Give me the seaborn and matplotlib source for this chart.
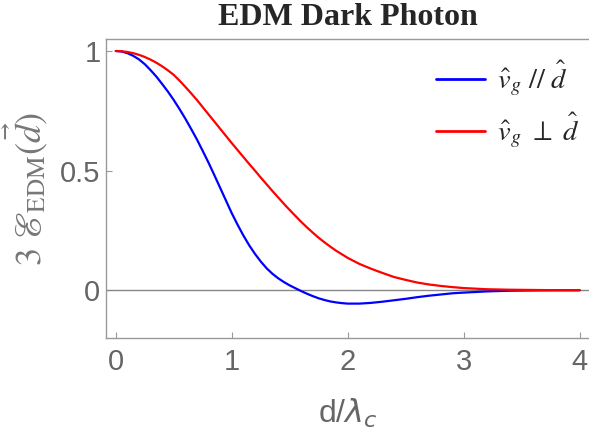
import numpy as np
import pandas as pd
import matplotlib.pyplot as plt
import seaborn as sns

# values (finer steps where they bend most)
d_over_lambda = [0.0, 0.05, 0.1, 0.15, 0.2, 0.25, 0.3, 0.35, 0.4, 0.45,
                 0.5, 0.55, 0.6, 0.65, 0.7, 0.75, 0.8, 0.85, 0.9, 0.95,
                 1.0, 1.05, 1.1, 1.15, 1.2, 1.25, 1.3, 1.35, 1.4, 1.45,
                 1.5, 1.55, 1.6, 1.65, 1.7, 1.75, 1.8, 1.85, 1.9, 1.95,
                 2.0, 2.1, 2.2, 2.3, 2.4, 2.5, 2.6, 2.7, 2.8, 2.9,
                 3.0, 3.2, 3.4, 3.6, 3.8, 4.0]
parallel = [1.0, 0.998, 0.991, 0.980, 0.965, 0.945, 0.920, 0.893, 0.862, 0.830,
            0.795, 0.757, 0.717, 0.674, 0.630, 0.582, 0.533, 0.481, 0.428, 0.375,
            0.322, 0.274, 0.229, 0.188, 0.152, 0.120, 0.092, 0.069, 0.050, 0.034,
            0.020, 0.008, -0.004, -0.015, -0.025, -0.034, -0.041, -0.047, -0.051, -0.054,
            -0.056, -0.056, -0.053, -0.048, -0.042, -0.036, -0.029, -0.023, -0.018, -0.013,
            -0.010, -0.005, -0.002, -0.001, 0.0, 0.0]
perpendicular = [1.0, 0.999, 0.996, 0.991, 0.984, 0.975, 0.964, 0.951, 0.936, 0.919,
                 0.900, 0.876, 0.850, 0.823, 0.795, 0.765, 0.735, 0.705, 0.675, 0.645,
                 0.615, 0.586, 0.557, 0.528, 0.500, 0.471, 0.443, 0.415, 0.388, 0.361,
                 0.335, 0.310, 0.285, 0.262, 0.240, 0.219, 0.200, 0.182, 0.165, 0.150,
                 0.135, 0.110, 0.090, 0.072, 0.055, 0.043, 0.032, 0.024, 0.018, 0.013,
                 0.009, 0.004, 0.002, 0.001, 0.0, 0.0]

labels = [r'$\hat{v}_g\ //\ \hat{d}$', r'$\hat{v}_g\ \perp\ \hat{d}$']
x_ticks = [0, 1, 2, 3, 4]
y_ticks = [0, 0.5, 1]
y_tick_labels = ['0', '0.5', '1']

df = pd.DataFrame({
    'x': d_over_lambda * 2,
    'y': parallel + perpendicular,
    'case': [labels[0]] * len(d_over_lambda) + [labels[1]] * len(d_over_lambda),
})

sns.set_style('ticks')
plt.rcParams['font.family'] = ['Liberation Sans', 'DejaVu Sans']

fig = plt.figure(figsize=(5.89, 4.29), dpi=100)
ax = fig.add_axes([0.18, 0.212, 0.82, 0.697])

ax.axhline(0, color='#888888', lw=1.0, zorder=1)
sns.lineplot(data=df, x='x', y='y', hue='case', palette=['#0000ff', '#ff0000'],
             lw=1.6, ax=ax, legend=True)

ax.set_xlim(-0.084, 4.08)
ax.set_ylim(-0.2, 1.05)
ax.set_xticks(x_ticks)
ax.set_xticklabels([str(t) for t in x_ticks])
ax.set_yticks(y_ticks)
ax.set_yticklabels(y_tick_labels)

gray = '#999999'
for side in ['left', 'bottom', 'top']:
    ax.spines[side].set_color(gray)
    ax.spines[side].set_linewidth(1.0)
ax.spines['right'].set_visible(False)
ax.tick_params(direction='in', length=4, width=0.8, color=gray,
               labelcolor='#666666', labelsize=21)
ax.tick_params(axis='x', pad=7)
ax.tick_params(axis='y', pad=4)

ax.set_xlabel(r'd/$\lambda_c$', fontsize=23, color='#666666', labelpad=15,
              math_fontfamily='dejavusans')
ax.set_ylabel(r'$3\ \mathscr{E}_{\mathrm{EDM}}(\vec{d})$', fontsize=26,
              color='#777777', labelpad=7, math_fontfamily='stix')
ax.set_title('EDM Dark Photon', fontsize=23, fontweight='bold',
             family='Liberation Serif', pad=10)

leg = ax.legend(loc='upper right', bbox_to_anchor=(1.035, 1.02), frameon=False,
                handlelength=1.7, handletextpad=0.45, labelspacing=0.45,
                prop={'math_fontfamily': 'stix', 'size': 20.5})
for line in leg.get_lines():
    line.set_linewidth(2.0)

fig.savefig('out.png', dpi=100)
